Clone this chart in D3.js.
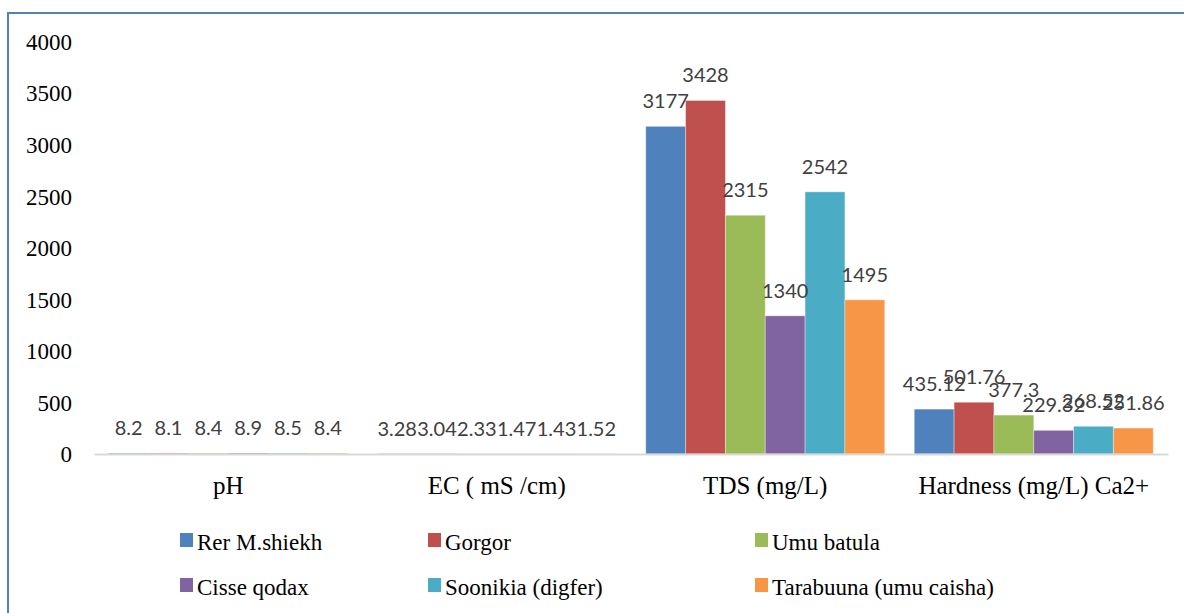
<!DOCTYPE html>
<html>
<head>
<meta charset="utf-8">
<script src="https://cdn.jsdelivr.net/npm/d3@7"></script>
<style>
  body { margin: 0; background: #fff; }
  #chart { width: 1184px; height: 613px; }
</style>
</head>
<body>
<div id="chart"></div>
<script>
// dane z wykresu
const categories = ["pH", "EC ( mS /cm)", "TDS (mg/L)", "Hardness (mg/L) Ca2+"];
const sites = ["Rer M.shiekh", "Gorgor", "Umu batula", "Cisse qodax", "Soonikia (digfer)", "Tarabuuna (umu caisha)"];
const rerMShiekh = [8.2, 3.28, 3177, 435.12];
const gorgor = [8.1, 3.04, 3428, 501.76];
const umuBatula = [8.4, 2.33, 2315, 377.3];
const cisseQodax = [8.9, 1.47, 1340, 229.32];
const soonikia = [8.5, 1.43, 2542, 268.52];
const tarabuuna = [8.4, 1.52, 1495, 251.86];
const yTicks = [0, 500, 1000, 1500, 2000, 2500, 3000, 3500, 4000];
const colors = ["#4F81BD", "#C0504D", "#9BBB59", "#8064A2", "#4BACC6", "#F79646"];

const series = [rerMShiekh, gorgor, umuBatula, cisseQodax, soonikia, tarabuuna];
const rows = [];
categories.forEach((c, ci) => {
  series.forEach((s, si) => rows.push({cat: c, site: sites[si], value: s[ci], si: si}));
});

const width = 1184, height = 613;
const svg = d3.select("#chart")
  .append("svg")
  .attr("width", width)
  .attr("height", height);

// ramka
svg.append("path")
  .attr("d", "M8," + height + "V13H" + width)
  .attr("fill", "none")
  .attr("stroke", "#4F81BD")
  .attr("stroke-width", 2);

// skale
const xScale = d3.scaleBand()
  .domain(categories)
  .range([94, 1168])
  .paddingInner(0.11)
  .paddingOuter(0.055);
const xInner = d3.scaleBand()
  .domain(d3.range(sites.length))
  .range([0, xScale.bandwidth()]);
const yScale = d3.scaleLinear()
  .domain([0, 4000])
  .range([454, 41.5]);

// os Y (bez linii)
const yAxis = svg.append("g")
  .attr("transform", "translate(72,0)")
  .call(d3.axisLeft(yScale).tickValues(yTicks).tickSize(0).tickPadding(0).tickFormat(d3.format("d")));
yAxis.select(".domain").remove();
yAxis.selectAll("text")
  .attr("font-family", "Liberation Serif, Times New Roman, serif")
  .attr("font-size", "23px")
  .attr("fill", "#000")
  .attr("dy", "0.34em");

// slupki
svg.append("g")
  .selectAll("rect")
  .data(rows)
  .enter()
  .append("rect")
  .attr("x", d => xScale(d.cat) + xInner(d.si))
  .attr("width", xInner.bandwidth())
  .attr("y", d => yScale(d.value))
  .attr("height", d => yScale(0) - yScale(d.value))
  .attr("fill", d => colors[d.si])
  .attr("stroke", "#fff")
  .attr("stroke-opacity", 0.35)
  .attr("stroke-width", 1);

// os X
const xAxis = svg.append("g")
  .attr("transform", "translate(0," + yScale(0) + ")")
  .call(d3.axisBottom(xScale).tickSize(0).tickPadding(0));
xAxis.select(".domain")
  .attr("stroke", "#D9D9D9")
  .attr("stroke-width", 2);
xAxis.selectAll("text")
  .attr("y", 40)
  .attr("dy", 0)
  .attr("font-family", "Liberation Serif, Times New Roman, serif")
  .attr("font-size", "25px")
  .attr("fill", "#000");

// etykiety wartosci
svg.append("g")
  .selectAll("text")
  .data(rows)
  .enter()
  .append("text")
  .attr("x", d => xScale(d.cat) + xInner(d.si) + xInner.bandwidth() / 2)
  .attr("y", d => yScale(d.value) - 18)
  .attr("text-anchor", "middle")
  .attr("font-family", "Lato, Open Sans, sans-serif")
  .attr("font-size", "20px")
  .attr("fill", "#404040")
  .text(d => d.value);

// legenda
const legendX = [180, 428, 755];
const legendY = [533, 578];
const legend = svg.append("g")
  .selectAll("g")
  .data(sites)
  .enter()
  .append("g")
  .attr("transform", (d, i) => "translate(" + legendX[i % 3] + "," + legendY[Math.floor(i / 3)] + ")");
legend.append("rect")
  .attr("width", 13)
  .attr("height", 14)
  .attr("fill", (d, i) => colors[i]);
legend.append("text")
  .attr("x", 17)
  .attr("y", 17)
  .attr("font-family", "Liberation Serif, Times New Roman, serif")
  .attr("font-size", "23px")
  .attr("fill", "#000")
  .text(d => d);
</script>
</body>
</html>
